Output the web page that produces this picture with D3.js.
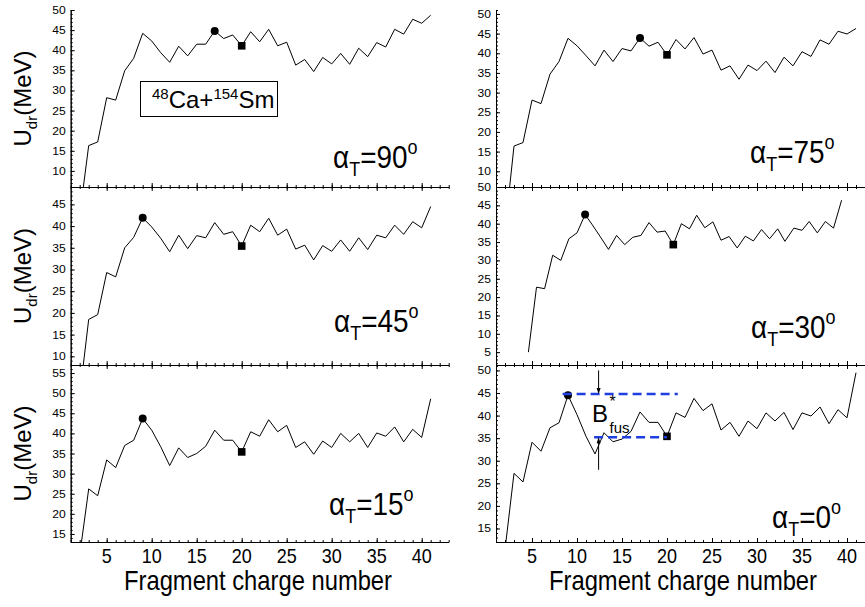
<!DOCTYPE html>
<html>
<head>
<meta charset="utf-8">
<script src="https://cdn.jsdelivr.net/npm/d3@7/dist/d3.min.js"></script>
<style>
  body { margin: 0; background: #fff; }
  svg text { font-family: 'Liberation Sans', Arial, sans-serif; fill: #000; }
</style>
</head>
<body>
<div id="chart"></div>
<script>
// fragment charge numbers (x) and driving potentials U_dr (MeV) per orientation angle
const charges = [2, 3, 4, 5, 6, 7, 8, 9, 10, 11, 12, 13, 14, 15, 16, 17, 18, 19, 20, 21,
  22, 23, 24, 25, 26, 27, 28, 29, 30, 31, 32, 33, 34, 35, 36, 37, 38, 39, 40, 41];

const u90 = [-1, 16.3, 17.2, 28.2, 27.6, 34.9, 38.0, 44.2, 42.3, 39.4, 37.0, 41.0, 38.6, 41.5, 41.5,
  44.8, 42.9, 43.8, 41.1, 44.6, 42.1, 45.2, 41.1, 42.0, 36.3, 37.7, 34.7, 38.2, 36.6, 39.2,
  36.5, 40.5, 38.4, 41.9, 40.8, 45.2, 44.0, 47.7, 46.7, 48.7];
const u75 = [-5, 16.4, 17.3, 28.1, 27.2, 34.7, 37.9, 43.8, 41.9, 39.4, 36.8, 40.8, 37.9, 41.2, 40.6,
  43.9, 41.8, 42.8, 39.6, 43.5, 41.1, 44.0, 39.8, 40.8, 35.7, 36.8, 33.4, 37.0, 35.6, 38.0,
  35.1, 39.0, 36.8, 40.4, 39.2, 43.4, 42.3, 45.6, 44.9, 46.3];
const u45 = [1.0, 18.5, 19.6, 29.3, 28.3, 35.0, 37.4, 41.9, 39.8, 37.2, 34.1, 37.9, 34.8, 37.8, 37.3,
  40.8, 38.1, 38.7, 35.4, 40.2, 38.7, 41.8, 37.9, 39.3, 34.7, 35.6, 32.2, 35.5, 34.2, 36.8,
  34.2, 37.3, 34.6, 37.9, 37.3, 40.2, 38.1, 41.0, 39.6, 44.5];
// the 30 degree curve is drawn slightly squeezed along x in the original
const x30 = [4.6, 5.5, 6.4, 7.3, 8.2, 9.1, 10.0, 10.9, 11.7, 12.6, 13.5, 14.4, 15.3, 16.2, 17.1,
  18.0, 18.9, 19.8, 20.7, 21.6, 22.5, 23.3, 24.2, 25.1, 26.0, 26.9, 27.8, 28.7, 29.6, 30.5,
  31.4, 32.3, 33.1, 34.1, 35.0, 35.8, 36.7, 37.6, 38.5, 39.4];
const u30 = [5.0, 22.7, 22.3, 31.4, 30.0, 35.9, 37.5, 42.5, 39.7, 36.4, 33.0, 36.8, 34.3, 36.3, 36.8,
  40.3, 37.7, 38.0, 34.3, 40.0, 38.6, 42.3, 38.9, 40.5, 35.5, 36.5, 33.4, 36.6, 35.3, 38.4,
  35.9, 38.6, 35.2, 38.8, 38.2, 40.6, 37.5, 40.6, 38.8, 46.4];
const u15 = [9.7, 26.2, 24.5, 33.4, 31.5, 37.0, 38.3, 43.7, 40.8, 36.7, 32.0, 36.4, 34.0, 35.0, 36.8,
  40.8, 38.3, 38.3, 35.4, 40.4, 39.3, 43.4, 40.4, 42.0, 36.5, 37.9, 34.8, 38.1, 36.5, 40.0,
  37.9, 40.0, 36.5, 40.1, 39.3, 41.6, 37.9, 41.0, 39.0, 48.6];
const u0 = [10.3, 27.2, 25.3, 34.1, 32.1, 37.3, 38.4, 44.5, 40.2, 35.4, 31.5, 36.2, 34.2, 34.8, 36.5,
  40.8, 38.5, 38.5, 35.4, 40.6, 39.6, 43.8, 41.1, 42.6, 36.8, 38.5, 35.4, 38.8, 37.1, 40.6,
  38.8, 40.7, 36.9, 40.6, 39.9, 41.9, 38.2, 41.3, 39.5, 49.5];

const angles = ['90', '75', '45', '30', '15', '0'];
const yDomains = [[6, 50], [6, 51], [8, 49], [1.5, 50], [13, 57], [12, 51.2]];
const peakIndex = [15, 15, 7, 7, 7, 7]; // filled circle
const lowIndex = [18, 18, 18, 18, 18, 18]; // filled square

const xTicks = [5, 10, 15, 20, 25, 30, 35, 40];
const xDomain = [1, 43];

// B*fus annotation (bottom right): dashed levels, arrow position
const fusLevels = [44.8, 35.2];
const fusSpans = [[8.4, 21.2], [11.9, 20.0]];
const fusArrowZ = 12.4;
const fusArrowEnds = [50, 28];

const width = 865;
const height = 607;
const cols = [{ left: 70.7, right: 448.7, mid: 258 }, { left: 496, right: 874, mid: 683 }];
const rows = [{ top: 10, bottom: 187 }, { top: 187, bottom: 365 }, { top: 365, bottom: 542 }];
const alphaPos = [[333, 168], [750, 163], [334, 332], [751, 338], [329, 515], [772, 528]];

const panels = [
  { xs: charges, ys: u90 }, { xs: charges, ys: u75 },
  { xs: charges, ys: u45 }, { xs: x30, ys: u30 },
  { xs: charges, ys: u15 }, { xs: charges, ys: u0 },
].map((p, i) => Object.assign(p, {
  col: i % 2, row: Math.floor(i / 2), angle: angles[i], dom: yDomains[i],
  peak: peakIndex[i], low: lowIndex[i], pos: alphaPos[i],
}));

const svg = d3.select('#chart').append('svg')
  .attr('width', width)
  .attr('height', height);

const xScales = cols.map(c => d3.scaleLinear().domain(xDomain).range([c.left, c.right]));

function scaledText(g, x, y, size, sx) {
  return g.append('text')
    .attr('transform', `translate(${x},${y}) scale(${sx},1)`)
    .style('font-size', `${size}px`);
}

panels.forEach((p, i) => {
  const c = cols[p.col];
  const r = rows[p.row];
  const x = xScales[p.col];
  const y = d3.scaleLinear().domain(p.dom).range([r.bottom, r.top]);
  p.y = y;
  const g = svg.append('g');

  // clip
  svg.append('clipPath').attr('id', `clip${i}`)
    .append('rect')
    .attr('x', c.left).attr('y', r.top)
    .attr('width', c.right - c.left).attr('height', r.bottom - r.top);

  // x axis ticks (inward, plus downward at top for lower rows)
  const minorX = d3.range(xDomain[0], xDomain[1] + 1);
  g.append('g').attr('transform', `translate(0,${r.bottom})`)
    .call(d3.axisBottom(x).tickValues(minorX).tickSize(-2).tickSizeOuter(0).tickFormat(''));
  g.append('g').attr('transform', `translate(0,${r.bottom})`)
    .call(d3.axisBottom(x).tickValues(xTicks).tickSize(-4).tickSizeOuter(0).tickFormat(''));
  if (p.row > 0) {
    g.append('g').attr('transform', `translate(0,${r.top})`)
      .call(d3.axisBottom(x).tickValues(minorX).tickSize(2).tickSizeOuter(0).tickFormat(''))
      .select('.domain').remove();
    g.append('g').attr('transform', `translate(0,${r.top})`)
      .call(d3.axisBottom(x).tickValues(xTicks).tickSize(4).tickSizeOuter(0).tickFormat(''))
      .select('.domain').remove();
  }

  // y axis
  const minorY = d3.range(Math.ceil(p.dom[0]), Math.floor(p.dom[1]) + 1);
  const majorY = minorY.filter(v => v % 5 === 0);
  g.append('g').attr('transform', `translate(${c.left},0)`)
    .call(d3.axisRight(y).tickValues(minorY).tickSize(2).tickSizeOuter(0).tickFormat(''));
  g.append('g').attr('transform', `translate(${c.left},0)`)
    .call(d3.axisRight(y).tickValues(majorY).tickSize(4).tickSizeOuter(0).tickFormat(''));

  const yLab = g.append('g').attr('class', 'ylab');
  majorY.forEach((v) => {
    scaledText(yLab, c.left - 5, y(v) + 4, 11, 1.1)
      .attr('text-anchor', 'end')
      .text(v);
  });

  svg.selectAll('.domain, .tick line').attr('stroke', '#000').attr('stroke-width', 1);

  // curve
  const pts = p.xs.map((z, k) => [z, p.ys[k]]);
  g.append('path')
    .datum(pts)
    .attr('clip-path', `url(#clip${i})`)
    .attr('fill', 'none')
    .attr('stroke', '#000')
    .attr('stroke-width', 1)
    .attr('d', d3.line().x(d => x(d[0])).y(d => y(d[1])));

  // markers
  g.append('circle')
    .attr('cx', x(p.xs[p.peak])).attr('cy', y(p.ys[p.peak]))
    .attr('r', 4).attr('fill', '#000');
  g.append('rect')
    .attr('x', x(p.xs[p.low]) - 3.8).attr('y', y(p.ys[p.low]) - 3.8)
    .attr('width', 7.6).attr('height', 7.6).attr('fill', '#000');

  // alpha label
  const t = scaledText(g, p.pos[0], p.pos[1], 31, 0.9);
  t.append('tspan').text('\u03b1');
  t.append('tspan').attr('dy', 8).style('font-size', '20px').text('T');
  t.append('tspan').attr('dy', -8).text(`=${p.angle}`);
  t.append('tspan').attr('dy', -14).style('font-size', '20px').text('o');

  // bottom row tick labels + title
  if (p.row === 2) {
    xTicks.forEach((v) => {
      scaledText(g, x(v), r.bottom + 21, 20, 0.9)
        .attr('text-anchor', 'middle')
        .text(v);
    });
    scaledText(g, c.mid, 590, 27, 0.88)
      .attr('text-anchor', 'middle')
      .text('Fragment charge number');
  }

  // y title for left column
  if (p.col === 0) {
    const yt = g.append('text')
      .attr('transform', `translate(31,${(r.top + r.bottom) / 2}) rotate(-90)`)
      .attr('text-anchor', 'middle')
      .style('font-size', '24px');
    yt.append('tspan').text('U');
    yt.append('tspan').attr('dy', 6).style('font-size', '15px').text('dr');
    yt.append('tspan').attr('dy', -6).text('(MeV)');
  }
});

// reaction box in the first panel
const box = svg.append('g');
box.append('rect')
  .attr('x', 140.5).attr('y', 81.5)
  .attr('width', 137).attr('height', 35)
  .attr('fill', '#fff').attr('stroke', '#000').attr('stroke-width', 1);
const bt = box.append('text').attr('x', 152).attr('y', 108).style('font-size', '24px');
bt.append('tspan').attr('dy', -9).style('font-size', '15px').text('48');
bt.append('tspan').attr('dy', 9).text('Ca+');
bt.append('tspan').attr('dy', -9).style('font-size', '15px').text('154');
bt.append('tspan').attr('dy', 9).text('Sm');

// B*fus annotation
const pb = panels[5];
const xr = xScales[1];
const ann = svg.append('g');
fusLevels.forEach((lv, k) => {
  ann.append('line')
    .attr('x1', xr(fusSpans[k][0])).attr('x2', xr(fusSpans[k][1]))
    .attr('y1', pb.y(lv)).attr('y2', pb.y(lv))
    .attr('stroke', '#1f3fe0').attr('stroke-width', 2.5)
    .attr('stroke-dasharray', '9,5');
});
const ax = xr(fusArrowZ);
fusArrowEnds.forEach((end, k) => {
  const y0 = pb.y(end);
  const y1 = pb.y(fusLevels[k]);
  const dir = y1 > y0 ? 1 : -1;
  ann.append('line')
    .attr('x1', ax).attr('x2', ax).attr('y1', y0).attr('y2', y1 - dir * 4)
    .attr('stroke', '#000').attr('stroke-width', 1);
  ann.append('path')
    .attr('d', `M${ax - 2},${y1 - dir * 6}L${ax + 2},${y1 - dir * 6}L${ax},${y1}Z`)
    .attr('fill', '#000');
});
ann.append('text').attr('x', 592).attr('y', 422).style('font-size', '24px').text('B');
ann.append('text').attr('x', 609.5).attr('y', 407).style('font-size', '16px').text('*');
ann.append('text').attr('x', 609.5).attr('y', 433).style('font-size', '15px').text('fus');
</script>
</body>
</html>
